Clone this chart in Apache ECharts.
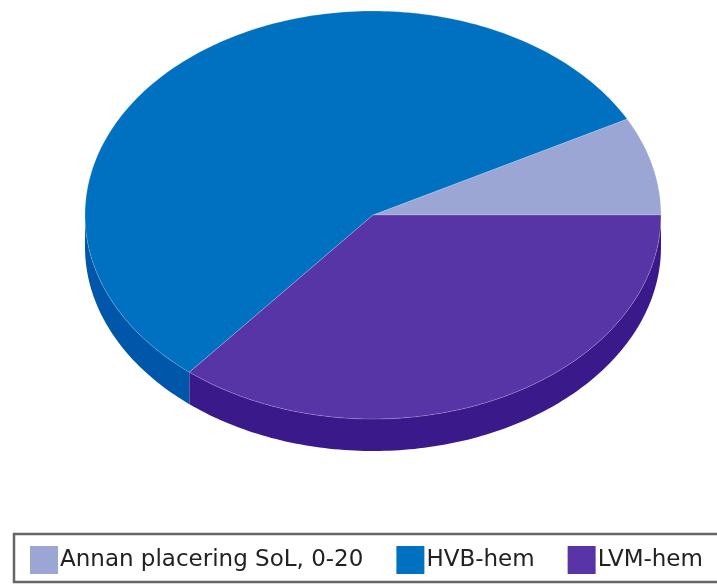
<!DOCTYPE html>
<html>
<head>
<meta charset="utf-8">
<script src="https://cdn.jsdelivr.net/npm/echarts@6/dist/echarts.min.js"></script>
<style>
    html, body { margin: 0; padding: 0; background: #fff; }
    #main { width: 717px; height: 585px; }
</style>
</head>
<body>
<div id="main"></div>
<script>
    var categories = ['Annan placering SoL, 0-20', 'HVB-hem', 'LVM-hem'];
    var shares = [7.8, 56.2, 36.0];
    var topColors = ['#9ba6d5', '#0070c0', '#5835a6'];
    var wallColors = ['#7a85b8', '#0056a8', '#3a1a8a'];

    // the pie is flattened to an ellipse with a wall under the front half
    var cx = 373, cy = 215, rx = 288, ry = 204, depth = 32;
    var total = shares.reduce(function (a, b) { return a + b; }, 0);

    function arc(from, to, dy) {
        var pts = [];
        var steps = Math.max(2, Math.ceil(Math.abs(to - from)));
        for (var i = 0; i <= steps; i++) {
            var t = (from + (to - from) * i / steps) * Math.PI / 180;
            pts.push([cx + rx * Math.cos(t), cy + dy - ry * Math.sin(t)]);
        }
        return pts;
    }

    function renderSlice(params, api) {
        var idx = params.seriesIndex;
        var before = 0;
        for (var i = 0; i < idx; i++) before += shares[i];
        var start = before / total * 360;
        var end = start + api.value(0) / total * 360;
        var children = [];
        var a = Math.max(start, 180), b = Math.min(end, 360);
        if (b > a) {
            children.push({
                type: 'polygon',
                shape: { points: arc(a, b, 0).concat(arc(b, a, depth)) },
                style: { fill: wallColors[idx] }
            });
        }
        children.push({
            type: 'polygon',
            shape: { points: [[cx, cy]].concat(arc(start, end, 0)) },
            style: { fill: topColors[idx], stroke: 'rgba(255,255,255,0.2)', lineWidth: 1 }
        });
        return { type: 'group', children: children };
    }

    var series = categories.map(function (name, i) {
        return {
            name: name,
            type: 'custom',
            coordinateSystem: 'none',
            silent: true,
            itemStyle: { color: topColors[i] },
            data: [[shares[i]]],
            renderItem: renderSlice
        };
    });

    var chart = echarts.init(document.getElementById('main'), null, { renderer: 'canvas' });
    chart.setOption({
        animation: false,
        backgroundColor: '#fff',
        graphic: [{
            type: 'rect',
            silent: true,
            shape: { x: 14, y: 534, width: 720, height: 48 },
            style: { fill: '#fff', stroke: '#666', lineWidth: 2.5 }
        }],
        legend: {
            data: categories,
            left: 30,
            top: 546,
            padding: 0,
            itemGap: 33,
            itemWidth: 28,
            itemHeight: 28,
            icon: 'rect',
            selectedMode: false,
            textStyle: {
                color: '#222',
                fontFamily: 'DejaVu Sans',
                fontSize: 23,
                padding: [0, 0, 0, -3]
            }
        },
        series: series
    });
</script>
</body>
</html>
